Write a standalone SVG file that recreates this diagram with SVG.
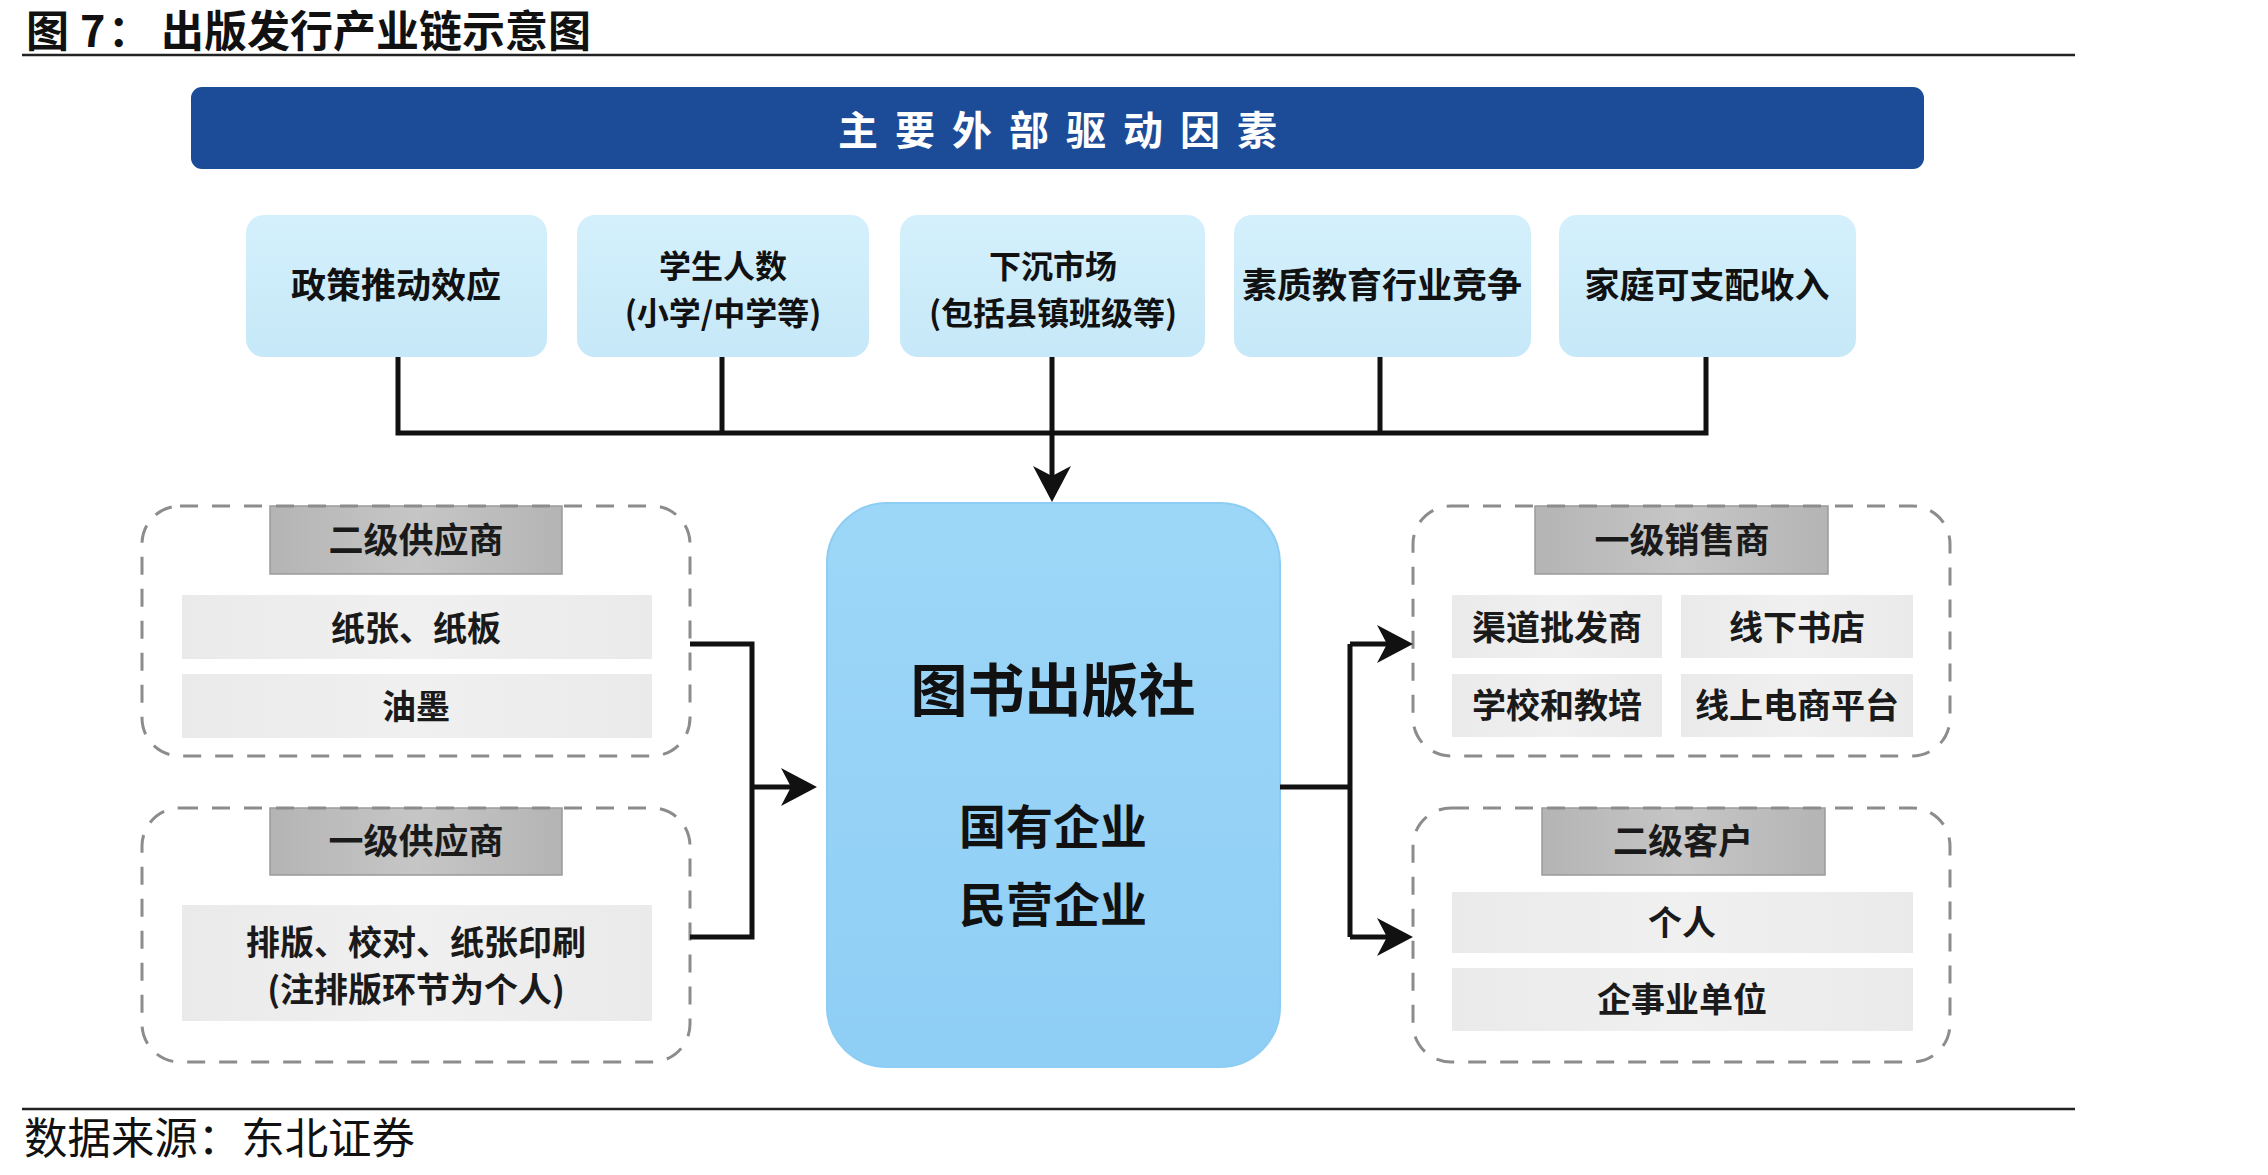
<svg xmlns="http://www.w3.org/2000/svg" width="2268" height="1175" viewBox="0 0 2268 1175">
<defs>
<style>
text{font-family:'Noto Sans CJK SC','Noto Sans',sans-serif;fill:#111;text-anchor:middle}
.t{font-weight:700;font-size:35px}
.t2{font-weight:700;font-size:32px}
.it{font-weight:700;font-size:34px;fill:#1a1a1a}
.tab{font-weight:700;font-size:35px;fill:#1a1a1a}
.dash{fill:none;stroke:#8c8c8c;stroke-width:3;stroke-dasharray:18 14}
.ln{fill:none;stroke:#111;stroke-width:5}
.tabr{fill:url(#gTab);stroke:#9a9a9a;stroke-width:1.5}
.itr{fill:url(#gItem)}
.top{fill:url(#gTop)}
</style>
<linearGradient id="gTop" x1="0" y1="0" x2="0" y2="1"><stop offset="0" stop-color="#D4F0FC"/><stop offset="1" stop-color="#C6E8F8"/></linearGradient>
<linearGradient id="gMain" x1="0" y1="0" x2="0" y2="1"><stop offset="0" stop-color="#9DD7F8"/><stop offset="1" stop-color="#8FCEF5"/></linearGradient>
<linearGradient id="gTab" x1="0" y1="0" x2="1" y2="0"><stop offset="0" stop-color="#B4B4B4"/><stop offset="0.5" stop-color="#C6C6C6"/><stop offset="1" stop-color="#B4B4B4"/></linearGradient>
<linearGradient id="gItem" x1="0" y1="0" x2="1" y2="0"><stop offset="0" stop-color="#EAEAEA"/><stop offset="0.5" stop-color="#F0F0F0"/><stop offset="1" stop-color="#EAEAEA"/></linearGradient>
<marker id="ah" markerUnits="userSpaceOnUse" viewBox="-12 -21 40 42" refX="0" refY="0" markerWidth="40" markerHeight="42" orient="auto">
<path d="M26,0 L-10,-19 L0,0 L-10,19 Z" fill="#111"/>
</marker>
</defs>
<rect width="2268" height="1175" fill="#fff"/>

<g id="title">
<text x="26" y="47" style="text-anchor:start;font-weight:700;font-size:43px"><tspan x="26">图</tspan><tspan x="80">7</tspan><tspan x="108">：</tspan><tspan x="161">出版发行产业链示意图</tspan></text>
<line x1="22" y1="55" x2="2075" y2="55" stroke="#222" stroke-width="2.5"/>
</g>

<g id="banner">
<rect x="191" y="87" width="1733" height="82" rx="11" fill="#1C4C98"/>
<text x="1066" y="145" style="fill:#fff;font-weight:700;font-size:40px;letter-spacing:17px">主要外部驱动因素</text>
</g>

<g id="f1"><rect class="top" x="246" y="215" width="301" height="142" rx="18"/><text class="t" x="396" y="298">政策推动效应</text></g>
<g id="f2"><rect class="top" x="577" y="215" width="292" height="142" rx="18"/><text class="t2" x="723" y="278">学生人数</text><text class="t2" x="723" y="325">(小学/中学等)</text></g>
<g id="f3"><rect class="top" x="900" y="215" width="305" height="142" rx="18"/><text class="t2" x="1053" y="278">下沉市场</text><text class="t2" x="1053" y="325">(包括县镇班级等)</text></g>
<g id="f4"><rect class="top" x="1234" y="215" width="297" height="142" rx="18"/><text class="t" x="1382" y="298">素质教育行业竞争</text></g>
<g id="f5"><rect class="top" x="1559" y="215" width="297" height="142" rx="18"/><text class="t" x="1707" y="298">家庭可支配收入</text></g>

<g id="publisher">
<rect x="827" y="503" width="453" height="564" rx="60" fill="url(#gMain)" stroke="#8ECDF3" stroke-width="2"/>
<text x="1053" y="711" style="font-weight:700;font-size:57px">图书出版社</text>
<text x="1053" y="844" style="font-weight:700;font-size:47px">国有企业</text>
<text x="1053" y="922" style="font-weight:700;font-size:47px">民营企业</text>
</g>

<g id="supplier2">
<rect class="tabr" x="270" y="506" width="292" height="68"/>
<rect class="dash" x="142" y="506" width="548" height="250" rx="38"/>
<text class="tab" x="416" y="553">二级供应商</text>
<rect class="itr" x="182" y="595" width="470" height="64"/>
<text class="it" x="416" y="641">纸张、纸板</text>
<rect class="itr" x="182" y="674" width="470" height="64"/>
<text class="it" x="416" y="719">油墨</text>
</g>

<g id="supplier1">
<rect class="tabr" x="270" y="808" width="292" height="67"/>
<rect class="dash" x="142" y="808" width="548" height="254" rx="38"/>
<text class="tab" x="416" y="854">一级供应商</text>
<rect class="itr" x="182" y="905" width="470" height="116"/>
<text class="it" x="416" y="955">排版、校对、纸张印刷</text>
<text class="it" x="416" y="1002">(注排版环节为个人)</text>
</g>

<g id="seller1">
<rect class="tabr" x="1535" y="506" width="293" height="68"/>
<rect class="dash" x="1413" y="506" width="537" height="250" rx="38"/>
<text class="tab" x="1682" y="553">一级销售商</text>
<rect class="itr" x="1452" y="595" width="210" height="63"/>
<text class="it" x="1557" y="640">渠道批发商</text>
<rect class="itr" x="1681" y="595" width="232" height="63"/>
<text class="it" x="1797" y="640">线下书店</text>
<rect class="itr" x="1452" y="674" width="210" height="63"/>
<text class="it" x="1557" y="718">学校和教培</text>
<rect class="itr" x="1681" y="674" width="232" height="63"/>
<text class="it" x="1797" y="718">线上电商平台</text>
</g>

<g id="customer2">
<rect class="tabr" x="1542" y="808" width="283" height="67"/>
<rect class="dash" x="1413" y="808" width="537" height="254" rx="38"/>
<text class="tab" x="1683" y="854">二级客户</text>
<rect class="itr" x="1452" y="892" width="461" height="61"/>
<text class="it" x="1682" y="935">个人</text>
<rect class="itr" x="1452" y="968" width="461" height="63"/>
<text class="it" x="1682" y="1012">企事业单位</text>
</g>

<g id="connectors">
<path class="ln" d="M398,357 V433 H1706 V357 M722,357 V433 M1380,357 V433"/>
<path class="ln" d="M1052,357 V476" marker-end="url(#ah)"/>
<path class="ln" d="M690,644 H752 V937 H690"/>
<path class="ln" d="M752,787 H791" marker-end="url(#ah)"/>
<path class="ln" d="M1280,787 H1350"/>
<path class="ln" d="M1350,644 V937"/>
<path class="ln" d="M1350,644 H1387" marker-end="url(#ah)"/>
<path class="ln" d="M1350,937 H1387" marker-end="url(#ah)"/>
</g>

<g id="footer">
<line x1="22" y1="1109" x2="2075" y2="1109" stroke="#222" stroke-width="2.5"/>
<text x="24" y="1154" textLength="391" lengthAdjust="spacingAndGlyphs" style="text-anchor:start;font-size:43px;font-weight:400">数据来源：东北证券</text>
</g>
</svg>
